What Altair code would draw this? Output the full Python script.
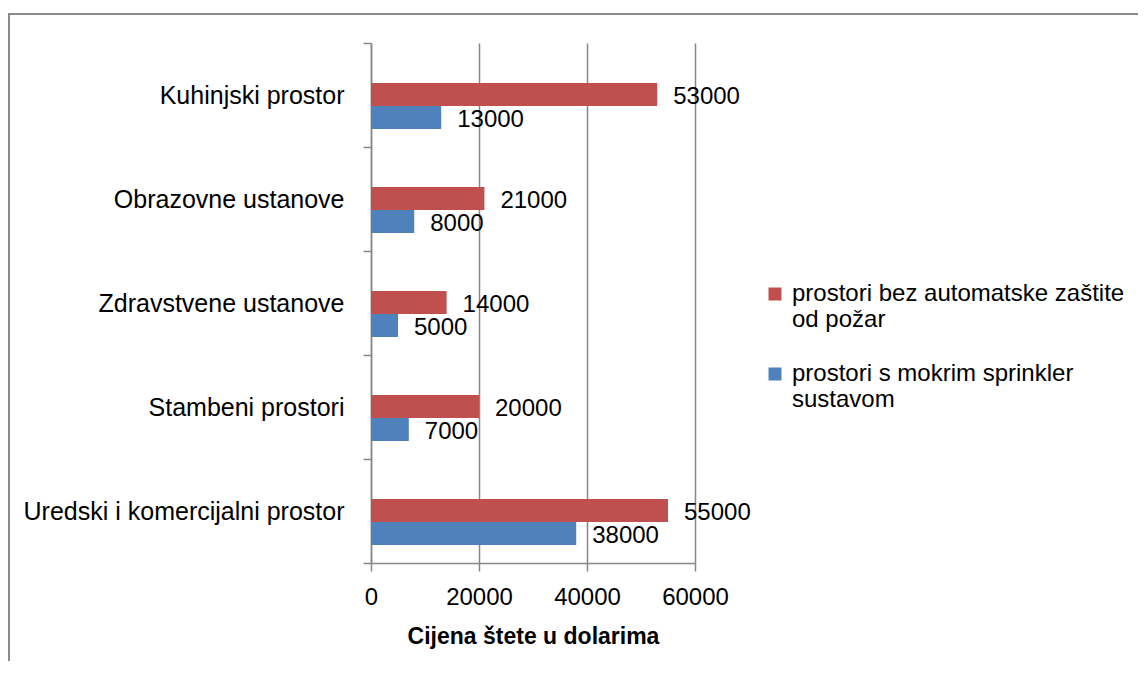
import altair as alt
import pandas as pd

categories = ["Kuhinjski prostor", "Obrazovne ustanove", "Zdravstvene ustanove",
              "Stambeni prostori", "Uredski i komercijalni prostor"]
series_names = ["prostori bez automatske zaštite od požar",
                "prostori s mokrim sprinkler sustavom"]
values_bez = [53000, 21000, 14000, 20000, 55000]
values_sprinkler = [13000, 8000, 5000, 7000, 38000]
x_ticks = [0, 20000, 40000, 60000]
colors = ["#C0504D", "#4F81BD"]
legend_lines = [["prostori bez automatske zaštite", "od požar"],
                ["prostori s mokrim sprinkler", "sustavom"]]
x_title = "Cijena štete u dolarima"

rows = []
for c, a, b in zip(categories, values_bez, values_sprinkler):
    rows.append({"cat": c, "series": series_names[0], "value": a})
    rows.append({"cat": c, "series": series_names[1], "value": b})
df = pd.DataFrame(rows)

FONT = "Liberation Sans"
FS = 24
GREY = "#878787"

label_expr = " : ".join(
    [f"datum.label == '{n}' ? {lines!r}" for n, lines in zip(series_names, legend_lines)]
) + " : datum.label"

offset_domain = ["_gap"] + series_names

y_enc = alt.Y("cat:N", sort=categories, title=None,
              scale=alt.Scale(paddingInner=0, paddingOuter=0),
              axis=alt.Axis(tickBand="extent", ticks=True, tickSize=8, tickWidth=1.5,
                            domainColor=GREY, tickColor=GREY, domainWidth=1.5,
                            labelPadding=19, labelFontSize=25, labelFont=FONT,
                            labelColor="black", grid=False, labelLimit=500))
yoff_scale = alt.Scale(domain=offset_domain, paddingInner=0, paddingOuter=0.76, align=0.486)
x_enc = alt.X("value:Q", scale=alt.Scale(domain=[0, 60000], nice=False),
              axis=alt.Axis(values=x_ticks, title=x_title, format="d",
                            tickSize=8, tickWidth=1.5, tickColor=GREY,
                            domainColor=GREY, domainWidth=1.5,
                            grid=True, gridColor=GREY, gridWidth=1.5,
                            labelFontSize=FS, labelFont=FONT, labelColor="black",
                            labelPadding=14, labelFlush=False,
                            titleFontSize=23, titleFont=FONT, titleFontWeight="bold",
                            titleColor="black", titlePadding=16))

base = alt.Chart(df)
bars = base.mark_bar().encode(
    y=y_enc, yOffset=alt.YOffset("series:N", scale=yoff_scale), x=x_enc,
    color=alt.Color("series:N", sort=series_names,
                    scale=alt.Scale(domain=series_names, range=colors),
                    legend=alt.Legend(title=None, orient="none", legendX=392, legendY=239,
                                      symbolType="square", symbolSize=169,
                                      symbolStrokeWidth=0, labelFontSize=24,
                                      labelFont=FONT, labelColor="black",
                                      labelLimit=600, labelOffset=5, rowPadding=30,
                                      labelExpr=label_expr)),
)
labels = base.mark_text(align="left", baseline="middle", dx=16, dy=2,
                        fontSize=FS, font=FONT, color="black").encode(
    y=alt.Y("cat:N", sort=categories), yOffset=alt.YOffset("series:N", scale=yoff_scale),
    x=alt.X("value:Q"), text=alt.Text("value:Q", format="d"))

frame = alt.Chart(alt.Data(values=[{"f": 1}])).mark_rect(
    filled=False, stroke="#8a8a8a", strokeWidth=2).encode(
    x=alt.value(-362), y=alt.value(-29), x2=alt.value(3000), y2=alt.value(3000))

chart = alt.layer(frame, bars, labels).properties(
    width=324, height=520,
    padding={"left": 363, "top": 35, "right": 443, "bottom": 98},
    autosize=alt.AutoSizeParams(type="none"),
).configure_view(strokeWidth=0)

chart.save("out.html", embed_options={"renderer": "svg", "actions": False})
